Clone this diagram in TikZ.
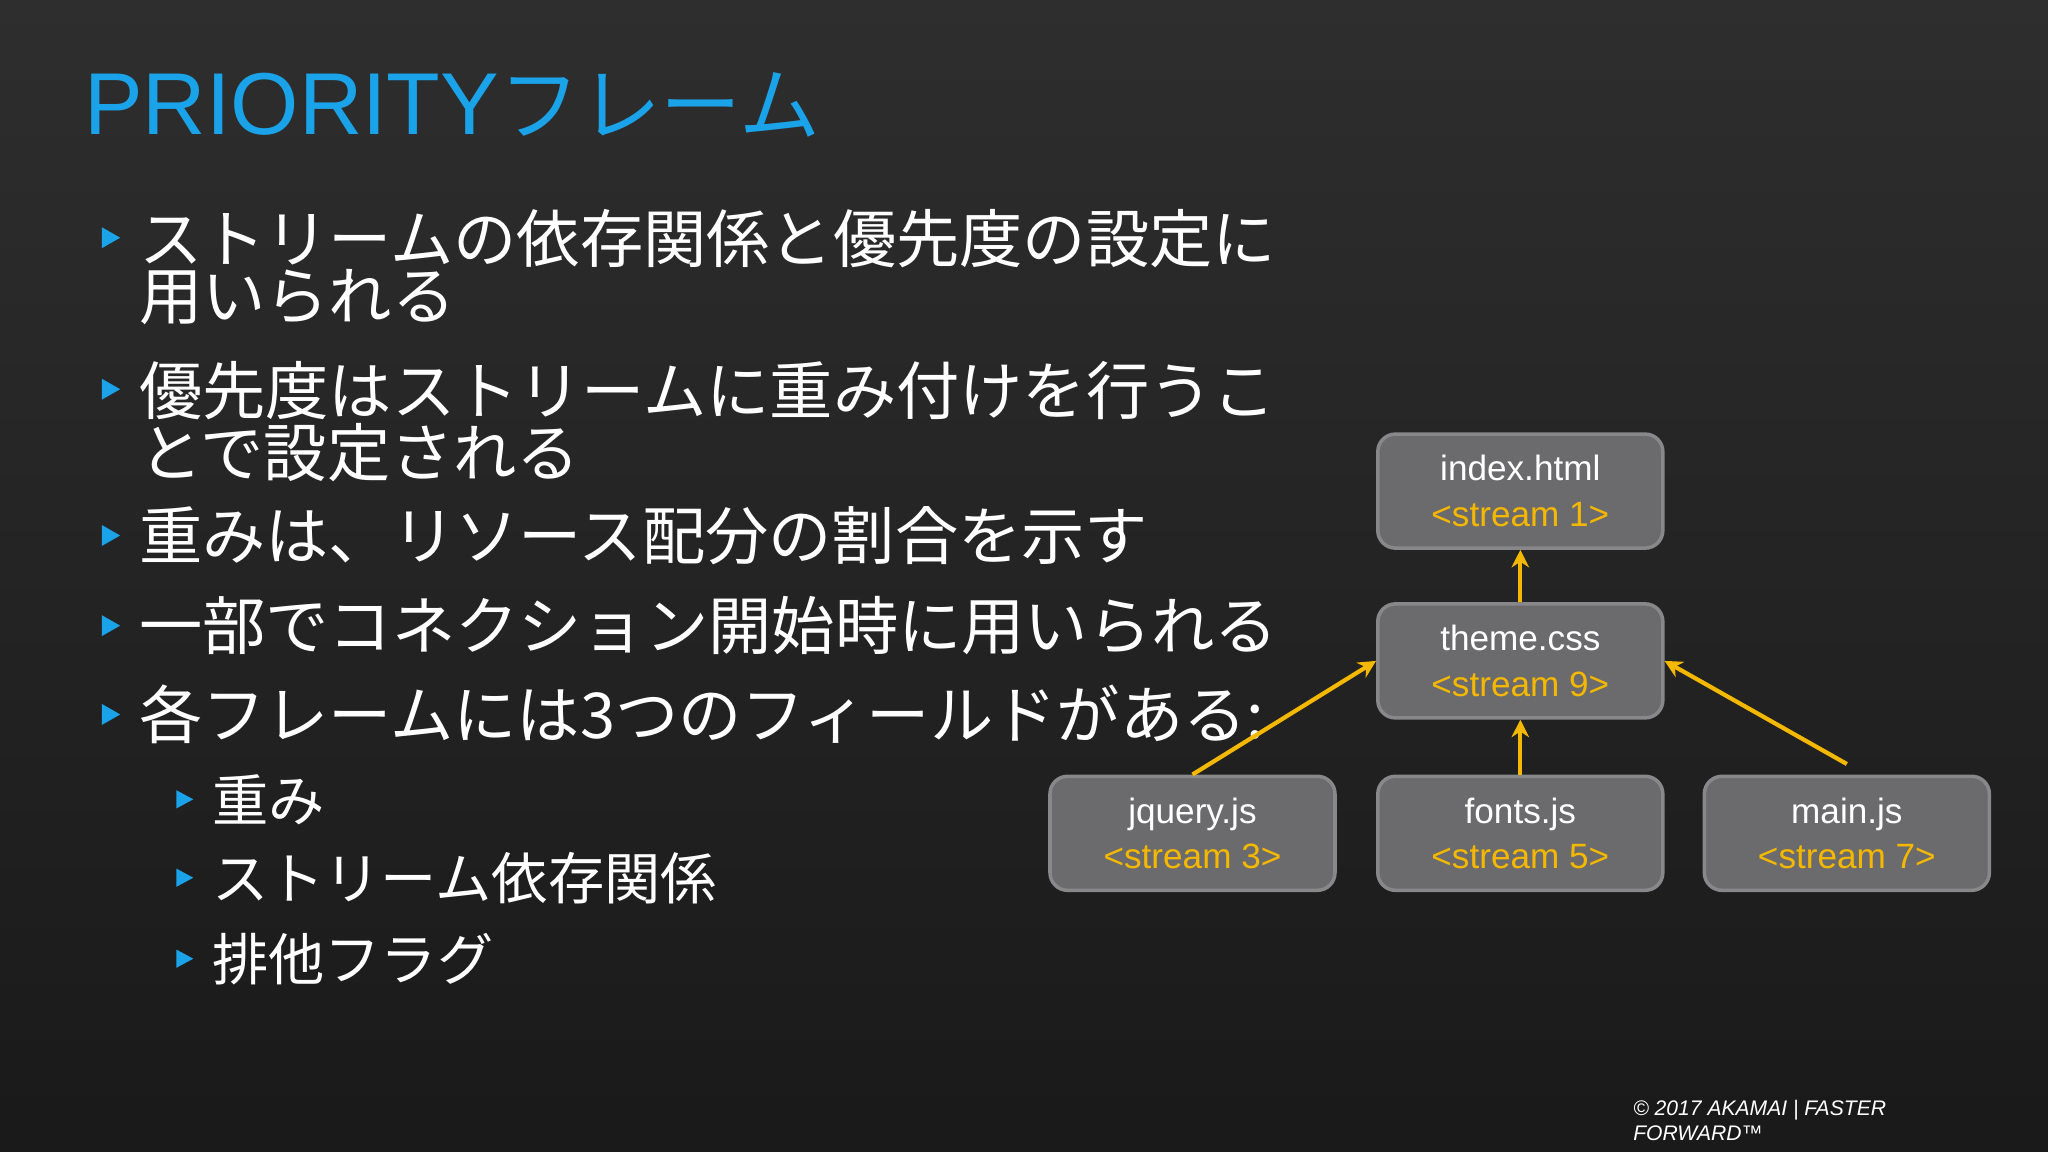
\documentclass[tikz,border=0pt]{standalone}
\usepackage{fontspec}
\setmainfont{Liberation Sans}
\newfontfamily\jpfont{Noto Sans CJK JP}
\usetikzlibrary{positioning,arrows.meta}
\definecolor{akblue}{HTML}{1AA3E8}
\definecolor{akyellow}{HTML}{F5B800}
\definecolor{boxfill}{HTML}{6B6B6D}
\definecolor{boxline}{HTML}{88888A}
\begin{document}
\begin{tikzpicture}[x=0.013061cm,y=-0.013061cm,
  bullettext/.style={anchor=west,text=white,inner sep=0pt,align=left,
    font=\jpfont\fontsize{18}{16}\selectfont},
  subtext/.style={anchor=west,text=white,inner sep=0pt,
    font=\jpfont\fontsize{16}{16}\selectfont},
  streambox/.style={draw=boxline,line width=1pt,fill=boxfill,rounded corners=5pt,
    minimum width=2.85cm,minimum height=1.14cm,align=center,text=white,
    font=\fontsize{10}{13}\selectfont},
  dep/.style={draw=akyellow,line width=1.2pt,-{Stealth[length=5pt,width=5pt]}}]
  % background
  \shade[top color=black!82,bottom color=black!90] (0,0) rectangle (1568,882);
  \useasboundingbox (0,0) rectangle (1568,882);
  % title
  \node (title) [anchor=west,inner sep=0pt,text=akblue,font=\fontsize{25}{25}\selectfont]
    at (64,80) {PRIORITY{\jpfont\fontsize{23}{23}\selectfont フレーム}};
  % bullets
  \foreach \y in {182,298,410,479,547}
    \fill[akblue] (78,\y-8) -- (92,\y) -- (78,\y+8) -- cycle;
  \foreach \y in {612,672,734}
    \fill[akblue] (135,\y-7) -- (148,\y) -- (135,\y+7) -- cycle;
  \node (b1) [bullettext,anchor=north west] at (106,160) {ストリームの依存関係と優先度の設定に\\用いられる};
  \node (b2) [bullettext,anchor=north west] at (106,276) {優先度はストリームに重み付けを行うこ\\とで設定される};
  \node (b3) [bullettext] at (106,410) {重みは、リソース配分の割合を示す};
  \node (b4) [bullettext] at (106,479) {一部でコネクション開始時に用いられる};
  \node (b5) [bullettext] at (106,547) {各フレームには3つのフィールドがある:};
  \node (s1) [subtext] at (162,612) {重み};
  \node (s2) [subtext] at (162,672) {ストリーム依存関係};
  \node (s3) [subtext] at (162,734) {排他フラグ};
  % stream tree
  \node (index) [streambox] at (1164,376) {index.html\\\textcolor{akyellow}{<stream 1>}};
  \node (theme) [streambox] at (1164,506) {theme.css\\\textcolor{akyellow}{<stream 9>}};
  \node (jquery) [streambox] at (913,638) {jquery.js\\\textcolor{akyellow}{<stream 3>}};
  \node (fonts) [streambox] at (1164,638) {fonts.js\\\textcolor{akyellow}{<stream 5>}};
  \node (main) [streambox] at (1414,638) {main.js\\\textcolor{akyellow}{<stream 7>}};
  \draw[dep] (theme.north) -- (index.south);
  \draw[dep] (fonts.north) -- (theme.south);
  \draw[dep] (jquery.north) -- (theme.west);
  \draw[dep] ([yshift=3pt]main.north) -- (theme.east);
  % footer
  \node (foot) [anchor=north west,inner sep=0pt,text=white,align=left,
    font=\fontsize{6}{7}\selectfont\itshape] at (1250,842) {© 2017 AKAMAI | FASTER\\FORWARD™};
\end{tikzpicture}
\end{document}
